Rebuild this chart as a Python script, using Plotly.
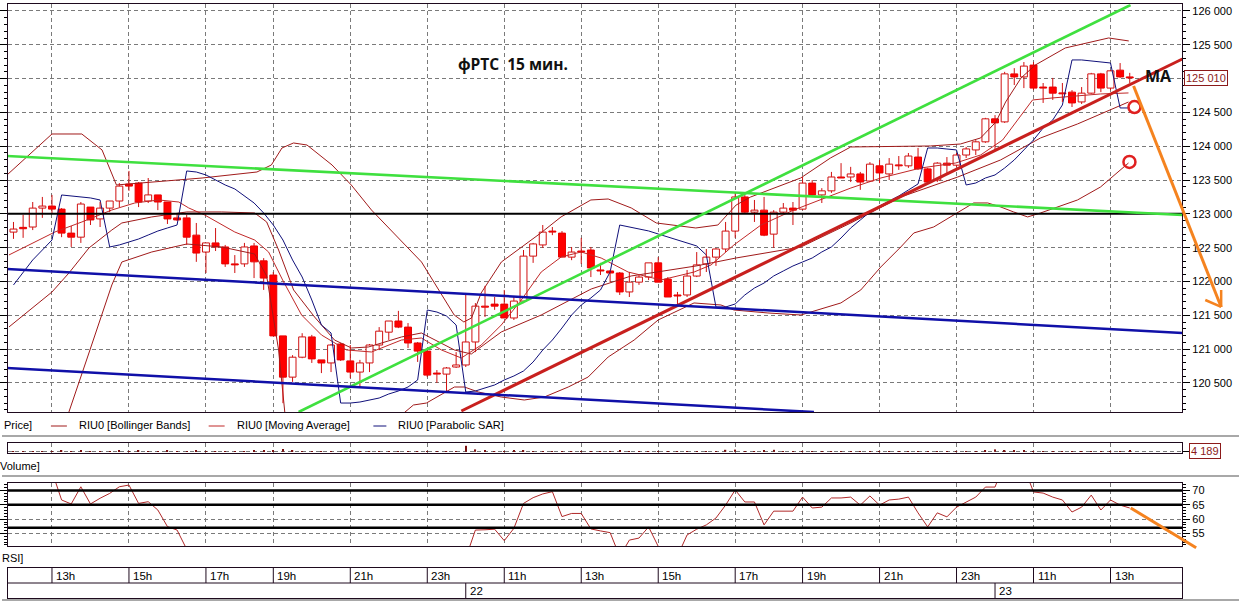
import plotly.graph_objects as go

# ------------------------------------------------------------------ data
candle_idx = list(range(117))
open_ = [122730,122800,122805,123085,123115,123070,122715,122655,123100,122925,
         123085,123190,123440,123455,123190,123280,123175,122940,122940,122685,
         122435,122570,122510,122260,122260,122525,122305,122095,121195,120585,
         120880,121180,120840,120795,121075,120825,120660,120795,121060,121250,
         121415,121325,121090,120970,120645,120630,120735,120765,121105,121635,
         121665,121665,121460,121710,122375,122540,122745,122715,122360,122450,
         122465,122170,122155,122125,121845,121990,122065,122275,122035,121800,
         121800,122080,122260,122360,122480,122745,123250,123025,123055,122700,
         123025,123085,123070,123455,123280,123340,123545,123545,123590,123485,
         123710,123590,123720,123710,123840,123665,123500,123750,123720,123870,
         123945,124065,124405,124360,125070,125025,125200,124875,124875,124785,
         124800,124655,124785,125070,124860,125125,125025]
high_ = [122880,122985,123175,123250,123280,123085,122820,123175,123100,123175,
         123190,123455,123635,123470,123530,123280,123175,123010,122985,122865,
         122570,122790,122540,122390,122570,122570,122345,122140,121195,120910,
         121235,121210,120840,121075,121090,121060,120840,121075,121325,121415,
         121565,121385,121105,121015,120690,120735,120955,121830,121680,121935,
         121770,121875,121770,122465,122570,122835,122805,122745,122510,122645,
         122510,122275,122170,122140,122140,122095,122275,122360,122065,121845,
         122170,122435,122480,122495,122880,123310,123280,123205,123250,123055,
         123160,123175,123545,123500,123380,123620,123750,123695,123620,123765,
         123795,123825,123855,123900,123975,123680,123765,123840,123900,123990,
         124090,124420,124460,125100,125155,125245,125245,124935,125010,124935,
         124830,124875,125085,125085,125125,125230,125085]
low_ = [122630,122645,122760,122940,123010,122655,122510,122570,122835,122805,
        123025,123100,123340,123100,123160,123055,122850,122895,122540,122290,
        122125,122450,122215,122125,122215,122050,121875,121195,120200,120515,
        120865,120795,120645,120660,120825,120570,120440,120660,120985,121135,
        121310,121015,120810,120585,120500,120365,120720,120735,120955,121475,
        121580,121460,121430,121680,122275,122495,122685,122360,122315,122260,
        122065,122095,121990,121800,121770,121950,122020,121990,121770,121635,
        121770,122065,122140,122230,122435,122645,123010,122880,122670,122495,
        123010,122835,123055,123250,123160,123310,123530,123470,123355,123470,
        123455,123500,123650,123680,123650,123455,123470,123605,123695,123825,
        123870,124050,123945,124345,124905,124860,124830,124640,124685,124655,
        124580,124625,124775,124800,124830,125010,124935]
close_ = [122775,122780,123085,123115,123070,122715,122655,123145,122910,123085,
          123190,123410,123410,123175,123280,123175,122925,122910,122655,122420,
          122570,122510,122260,122245,122510,122290,122050,121195,120585,120880,
          121180,120855,120795,121060,120840,120660,120795,121060,121265,121415,
          121325,121090,120970,120615,120630,120720,120765,121105,121635,121620,
          121635,121460,121710,122375,122555,122730,122730,122360,122435,122435,
          122200,122155,122125,121845,121990,122065,122275,121990,121770,121785,
          122080,122245,122360,122480,122745,123250,123025,123055,122685,123025,
          123085,123055,123455,123280,123340,123545,123530,123590,123470,123735,
          123605,123735,123710,123855,123665,123470,123750,123720,123870,123960,
          124065,124405,124345,125070,125025,125185,124860,124860,124785,124775,
          124640,124785,125070,124860,125115,125025,125010]

sar = [121948,122140,122318,122465,122613,123279,123264,123249,123235,123205,
       122510,122540,122584,122628,122687,122746,122791,122835,123634,123619,
       123575,123501,123427,123368,123264,123161,123013,122835,122613,122318,
       122066,121726,121356,121238,120202,120202,120217,120247,120276,120336,
       120380,120439,120543,121578,121548,121489,121356,120365,120380,120425,
       120469,120543,120602,120676,120809,120986,121134,121312,121504,121652,
       121756,121874,122140,122835,122806,122776,122747,122702,122658,122613,
       122569,122525,122392,121622,121622,121667,121800,121903,121977,122081,
       122155,122229,122288,122347,122436,122510,122643,122791,122909,123028,
       123116,123190,123264,123353,123442,123974,123974,123959,123945,123427,
       123456,123530,123575,123678,123797,123945,124092,124270,124388,124610,
       125276,125276,125261,125246,125231,124566,124566]

bb_up_x = [-0.67,1.4,4.0,7.1,9.2,10.7,14.4,19.6,25.3,26.8,27.9,29.1,30.5,33.1,35.1,37.2,
           42.4,45.8,46.8,47.6,48.6,50.7,54.8,56.9,60.0,61.8,64.2,66.8,70.9,73.2,75.1,
           76.6,81.8,84.9,87.0,95.3,98.4,100.5,102.1,103.1,104.7,106.2,109.3,113.8,115.9]
bb_up_y = [123575,123841,124181,124181,123945,123427,123471,123530,123619,123723,123974,
           124048,124018,123723,123427,123057,122288,121504,121401,121460,121830,122288,
           122717,122954,123205,123220,123087,122865,122791,122835,123131,123249,123530,
           123826,123989,124004,124033,124122,124359,124654,125009,125202,125453,125601,
           125557]
bb_mid_x = [-0.47,4.0,5.76,7.84,10.22,11.26,14.37,18.01,21.64,25.06,26.31,27.55,29.11,
            31.29,33.36,35.13,36.89,40.32,42.39,45.82,47.58,50.69,54.84,60.04,64.19,
            70.93,75.08,81.83,87.02,92.21,98.13,102.58,106.73,110.57,115.87]
bb_mid_y = [121327,121844,122125,122495,122761,122865,122954,123028,123028,123013,122880,
            122465,121874,121474,121134,121016,121031,121179,121238,120987,120927,121253,
            121504,121889,122081,122229,122347,122510,122865,123249,123545,123797,124122,
            124329,124654]
bb_low_x = [-0.67,5.76,7.84,10.22,11.26,14.37,18.01,21.64,25.06,26.31,27.55,28.38,33.05,
            38.24,40.32,41.56,42.91,45.82,46.86,48.31,50.69,53.08,55.16,57.65,59.72,61.8,
            64.5,66.99,70.72,73.52,74.87,78.4,81.83,85.98,88.05,90.13,92.21,93.56,95.63,
            97.4,99.78,101.24,102.58,103.93,105.39,106.73,108.5,110.57,112.96,114.72,115.87]
bb_low_y = [119064,120070,120942,121948,122288,122436,122554,122510,122406,122081,120987,
            119803,118472,119655,120025,120173,120202,120439,120439,120365,120291,120247,
            120291,120439,120587,120883,121134,121430,121682,121652,121578,121534,121504,
            121682,121874,122214,122510,122717,122806,122954,123161,123161,123102,123028,
            122954,123013,123102,123205,123397,123604,123752]
ma_x = [-0.47,4.31,7.11,10.22,12.61,15.10,17.18,18.21,19.87,22.99,25.06,26.51,27.97,29.94,
        32.01,34.61,37.20,40.32,42.39,44.47,46.54,48.62,50.69,52.77,54.84,56.92,58.99,61.07,
        63.87,67.30,70.73,72.49,74.87,77.68,81.10,84.63,87.02,90.13,94.28,97.91,100.51,
        102.79,105.90,107.98,110.67,112.96,115.87]
ma_y = [122392,122732,122880,123057,123161,123205,123175,123087,122983,122732,122613,122436,
        122022,121504,121208,120987,120957,121134,121164,120987,120868,121061,121356,121726,
        122140,122362,122436,122347,122140,122022,122140,122244,122540,122835,123057,123249,
        123382,123530,123678,123752,123871,124092,124684,124714,124743,124773,124788]

volume = [3000,2500,4000,3500,3000,5000,4000,9000,4000,3000,
          2500,5000,3500,4500,3000,3000,5000,2500,4000,8000,
          3000,3500,4000,2500,3000,4500,6000,9000,14000,6000,
          4000,3500,3000,2500,3000,3500,3000,3500,4000,3000,
          3500,3000,3000,4000,2500,3000,3500,30000,12000,9000,
          4000,3500,6000,7000,4000,3000,2500,4000,3500,3000,
          4000,2500,3000,4500,3500,2500,3000,3000,4000,2500,
          3500,4000,3000,3500,10000,11000,4000,3000,5000,10000,
          3000,2500,4000,3000,2500,3000,3500,2500,3000,2500,
          3000,2500,3500,3000,2500,3500,3000,2500,3000,3500,
          4000,6000,12000,9000,8000,5000,4000,3000,3500,3000,
          3000,2500,3500,3000,2500,3500,4189]

rsi = [75,76,75,76,76.7,66.7,65.3,71.3,65.3,67.3,
       69.0,71.3,71.9,65.5,66.1,63.2,57.4,56.2,49.5,45,
       42,44,40,40,43,39,36,28,24,31,
       36,33,32,38,34,32,36,40,43,41,
       37,36,30,29,31,32,33,46.4,56.2,56.3,
       56.5,52.5,56.8,65.5,67.5,68.8,69.6,60.9,62.0,62.0,
       56.6,55.9,55.3,47,52.7,53.4,57.3,50.5,46,47.1,
       54.5,56.5,58.0,60.4,64.9,70.2,66.0,66.0,58.0,62.8,
       62.8,62.8,67.7,63.9,64.2,67.4,67.4,67.7,64.9,68.1,
       64.9,66.7,67.0,67.7,62.2,57.3,62.2,60.8,64.2,66.0,
       67.7,71.2,71.2,80,80,78.2,69.5,69.1,67.7,66.7,
       62.5,64.2,68.4,63.2,66.7,64.9,63.9]
rsi_levels = [70, 65, 57]

hour_idx = [4, 12, 20, 27, 35, 43, 51, 59, 67, 75, 82, 90, 98, 106, 114]
hour_labels = ["13h", "15h", "17h", "19h", "21h", "23h", "11h", "13h", "15h",
               "17h", "19h", "21h", "23h", "11h", "13h"]
day_idx = [47, 102]
day_labels = ["22", "23"]
price_ticks = [120500, 121000, 121500, 122000, 122500, 123000, 123500,
               124000, 124500, 125000, 125500, 126000]
rsi_ticks = [55, 60, 65, 70]
last_price = 125010
last_volume = 4189

# hand-drawn analysis lines: (x0, y0, x1, y1) in candle index / price
level_line = (-0.6, 123000, 121.5, 123000)
green_down = (-0.67, 123856, 121.47, 122983)
green_up = (29.63, 120069, 116.08, 126089)
red_up = (46.54, 120084, 121.47, 125290)
blue_top = (-0.67, 122185, 121.47, 121238)
blue_bot = (-0.67, 120720, 83.18, 120069)
circles_x = [116.49, 115.97, 121.57]
circles_y = [124580, 123767, 122998]
arrow_main = (116.4, 124891, 125.5, 121623)
arrow_head = [(125.5, 121623, 123.85, 121726), (125.5, 121623, 125.5, 121874)]
arrow_rsi = (116.1, 63.9, 122.9, 50.0)

# ------------------------------------------------------------------ layout
W, H = 1239, 602
X_DOM = [6 / W, 1182 / W]
X_RANGE = [-0.571, 121.44]
MAIN_DOM = [1 - 412.3 / H, 1 - 4.3 / H]
MAIN_RANGE = [120065, 126099]
VOL_DOM = [1 - 453 / H, 1 - 443 / H]
RSI_DOM = [1 - 546 / H, 1 - 483 / H]
RSI_RANGE = [50.64, 72.62]
TIME_DOM = [1 - 598 / H, 1 - 568 / H]
FRAME = "#1e0a1e"
GRID = "#7a7a7a"
DASH = "4px,3px"
FONT = "Liberation Sans, Arial, sans-serif"
BB_COL = "#a01a1a"
MA_COL = "#c02828"
UP_LINE = "#d01010"
DOWN_COL = "#ff0000"
ORANGE = "#f5831f"


def xp(i):
    return X_DOM[0] + (i - X_RANGE[0]) / (X_RANGE[1] - X_RANGE[0]) * (X_DOM[1] - X_DOM[0])


def yp(v, dom, rng):
    return dom[0] + (v - rng[0]) / (rng[1] - rng[0]) * (dom[1] - dom[0])


fig = go.Figure()

for xs, ys, col in [(bb_up_x, bb_up_y, BB_COL), (bb_mid_x, bb_mid_y, BB_COL),
                    (bb_low_x, bb_low_y, BB_COL), (ma_x, ma_y, MA_COL)]:
    fig.add_trace(go.Scatter(x=xs, y=ys, mode="lines", line=dict(color=col, width=1),
                             hoverinfo="skip", showlegend=False))
fig.add_trace(go.Scatter(x=candle_idx, y=sar, mode="lines", line=dict(color="#10107a", width=1),
                         hoverinfo="skip", showlegend=False))

# candles: wicks (outside the body) + bodies as bars
wx, wy = [], []
for i, o, h, l, c in zip(candle_idx, open_, high_, low_, close_):
    top, bot = max(o, c), min(o, c)
    wx += [i, i, None, i, i, None]
    wy += [h, top, None, bot, l, None]
fig.add_trace(go.Scatter(x=wx, y=wy, mode="lines", line=dict(color=UP_LINE, width=1),
                         hoverinfo="skip", showlegend=False, connectgaps=False))
is_up = [c > o for o, c in zip(open_, close_)]
fig.add_trace(go.Bar(x=candle_idx,
                     base=[min(o, c) for o, c in zip(open_, close_)],
                     y=[max(abs(c - o), 14) for o, c in zip(open_, close_)],
                     width=0.72,
                     marker=dict(color=["#ffffff" if u else DOWN_COL for u in is_up],
                                 line=dict(color=[UP_LINE if u else "#e80000" for u in is_up], width=1)),
                     hoverinfo="skip", showlegend=False))

for (x0, y0, x1, y1), col, w in [(level_line, "#000000", 2), (green_down, "#3fe03f", 2.6),
                                  (green_up, "#3fe03f", 2.6), (red_up, "#c8201e", 3),
                                  (blue_top, "#1010a8", 2.5), (blue_bot, "#1010a8", 2.5)]:
    fig.add_trace(go.Scatter(x=[x0, x1], y=[y0, y1], mode="lines", line=dict(color=col, width=w),
                             hoverinfo="skip", showlegend=False))

fig.add_trace(go.Scatter(x=circles_x, y=circles_y, mode="markers", cliponaxis=False,
                         marker=dict(symbol="circle-open", size=12, color="#e02020",
                                     line=dict(width=2.5, color="#e02020")),
                         hoverinfo="skip", showlegend=False))

# volume
fig.add_trace(go.Bar(x=candle_idx, y=volume, width=0.14, marker=dict(color="#7a1010", line=dict(width=0)),
                     xaxis="x2", yaxis="y2", hoverinfo="skip", showlegend=False))
# RSI
fig.add_trace(go.Scatter(x=candle_idx, y=rsi, mode="lines", line=dict(color="#b02828", width=1),
                         xaxis="x3", yaxis="y3", hoverinfo="skip", showlegend=False))

common_x = dict(domain=X_DOM, range=X_RANGE, showticklabels=False, ticks="", tickvals=hour_idx,
                showgrid=True, gridcolor=GRID, griddash=DASH, gridwidth=1,
                showline=True, mirror=True, linecolor=FRAME, linewidth=1, zeroline=False)
tickfont = dict(family=FONT, size=11, color="#000000")
price_text = ["" if v == 125000 else f"{v:,}".replace(",", " ") for v in price_ticks]

fig.update_layout(
    width=W, height=H, margin=dict(l=0, r=0, t=0, b=0), barmode="overlay",
    paper_bgcolor="#ffffff", plot_bgcolor="#ffffff", showlegend=False,
    xaxis=dict(**common_x, anchor="y"),
    yaxis=dict(domain=MAIN_DOM, range=MAIN_RANGE, side="right", tickvals=price_ticks,
               ticktext=price_text,
               ticks="outside", ticklen=7, tickcolor="#000", mirror="ticks", showline=True,
               linecolor=FRAME, showgrid=True, gridcolor=GRID, griddash=DASH, zeroline=False,
               tickfont=tickfont,
               minor=dict(tick0=0, dtick=100, ticks="outside", ticklen=3, tickcolor="#000", showgrid=False)),
    xaxis2=dict(**common_x, anchor="y2"),
    yaxis2=dict(domain=VOL_DOM, range=[-6000, 44000], side="right", tickvals=[0], showticklabels=False,
                ticks="outside", ticklen=6, tickcolor="#000", showgrid=True, gridcolor=GRID, griddash=DASH,
                showline=True, mirror=True, linecolor=FRAME, zeroline=False),
    xaxis3=dict(**common_x, anchor="y3"),
    yaxis3=dict(domain=RSI_DOM, range=RSI_RANGE, side="right", tickvals=rsi_ticks,
                ticks="outside", ticklen=7, tickcolor="#000", mirror="ticks", showline=True,
                linecolor=FRAME, showgrid=True, gridcolor=GRID, griddash=DASH, zeroline=False,
                tickfont=tickfont,
                minor=dict(tick0=0, dtick=1, ticks="outside", ticklen=3, tickcolor="#000", showgrid=False)),
    xaxis4=dict(domain=X_DOM, range=X_RANGE, anchor="y4", showticklabels=False, ticks="", showgrid=False,
                showline=True, mirror=True, linecolor=FRAME, zeroline=False),
    yaxis4=dict(domain=TIME_DOM, range=[0, 2], showticklabels=False, ticks="", showgrid=False,
                showline=True, mirror=True, linecolor=FRAME, zeroline=False),
)

shapes = []
for lv in rsi_levels:
    shapes.append(dict(type="line", xref="x3 domain", yref="y3", x0=0, x1=1, y0=lv, y1=lv,
                       line=dict(color="#000000", width=2.5)))
shapes.append(dict(type="line", xref="x4 domain", yref="y4", x0=0, x1=1, y0=1, y1=1,
                   line=dict(color=FRAME, width=1)))
for h in hour_idx:
    shapes.append(dict(type="line", xref="x4", yref="y4", x0=h, x1=h, y0=1, y1=2,
                       line=dict(color=FRAME, width=1)))
for d in day_idx:
    shapes.append(dict(type="line", xref="x4", yref="y4", x0=d, x1=d, y0=0, y1=1,
                       line=dict(color=FRAME, width=1)))
for py in [436, 476, 600]:
    shapes.append(dict(type="line", xref="paper", yref="paper", x0=0, x1=1, y0=1 - py / H, y1=1 - py / H,
                       line=dict(color="#a8a8a8", width=2)))
for x0, x1, col in [(49, 65, BB_COL), (207, 223, MA_COL), (372, 385, "#10107a")]:
    shapes.append(dict(type="line", xref="paper", yref="paper", x0=x0 / W, x1=x1 / W,
                       y0=1 - 426 / H, y1=1 - 426 / H, line=dict(color=col, width=1)))
# orange hand-drawn arrow (drawn beyond the plot edge, so mapped to paper)
segs = [(arrow_main, MAIN_DOM, MAIN_RANGE, 3)] + [(s, MAIN_DOM, MAIN_RANGE, 2.5) for s in arrow_head] \
       + [(arrow_rsi, RSI_DOM, RSI_RANGE, 3)]
for (x0, y0, x1, y1), dom, rng, w in segs:
    shapes.append(dict(type="line", xref="paper", yref="paper", x0=xp(x0), x1=xp(x1),
                       y0=yp(y0, dom, rng), y1=yp(y1, dom, rng), line=dict(color=ORANGE, width=w)))
fig.update_layout(shapes=shapes)

ann = []
for h, lab in zip(hour_idx, hour_labels):
    ann.append(dict(x=h, y=1.5, xref="x4", yref="y4", text=lab, showarrow=False, xanchor="left",
                    xshift=2, font=dict(family=FONT, size=11.5, color="#000")))
for d, lab in zip(day_idx, day_labels):
    ann.append(dict(x=d, y=0.5, xref="x4", yref="y4", text=lab, showarrow=False, xanchor="left",
                    xshift=2, font=dict(family=FONT, size=11.5, color="#000")))
for txt, px, py in [("Price]", 0, 425), ("RIU0 [Bollinger Bands]", 75, 425),
                    ("RIU0 [Moving Average]", 233, 425), ("RIU0 [Parabolic SAR]", 395, 425),
                    ("Volume]", -4, 466), ("RSI]", -2, 558)]:
    ann.append(dict(x=px / W, y=1 - py / H, xref="paper", yref="paper", text=txt, showarrow=False,
                    xanchor="left", yanchor="middle", font=dict(family=FONT, size=11, color="#000")))
ann.append(dict(x=455 / W, y=1 - 64 / H, xref="paper", yref="paper", text="фРТС\u00a0 15 мин.",
                showarrow=False, xanchor="left", yanchor="middle",
                font=dict(family="Open Sans, Liberation Sans", size=15.5, color="#111", weight="bold")))
ann.append(dict(x=1143 / W, y=1 - 76 / H, xref="paper", yref="paper", text="MA", showarrow=False,
                xanchor="left", yanchor="middle",
                font=dict(family="Open Sans, Liberation Sans", size=16, color="#111", weight="bold")))
ann.append(dict(x=1184 / W, y=last_price, xref="paper", yref="y", text=f"{last_price:,}".replace(",", " "),
                showarrow=False, xanchor="left", yanchor="middle", bgcolor="#fff",
                bordercolor="#8b1a1a", borderwidth=1, borderpad=1,
                font=dict(family=FONT, size=11, color="#8b1a1a")))
ann.append(dict(x=1189 / W, y=last_volume, xref="paper", yref="y2", text=f"{last_volume:,}".replace(",", " "),
                showarrow=False, xanchor="left", yanchor="middle", bgcolor="#fff",
                bordercolor="#8b1a1a", borderwidth=1, borderpad=1,
                font=dict(family=FONT, size=11, color="#8b1a1a")))
fig.update_layout(annotations=ann)

fig.write_html("out.html", config={"displayModeBar": False},
               post_script="document.body.style.margin='0';document.body.style.overflow='hidden';")
